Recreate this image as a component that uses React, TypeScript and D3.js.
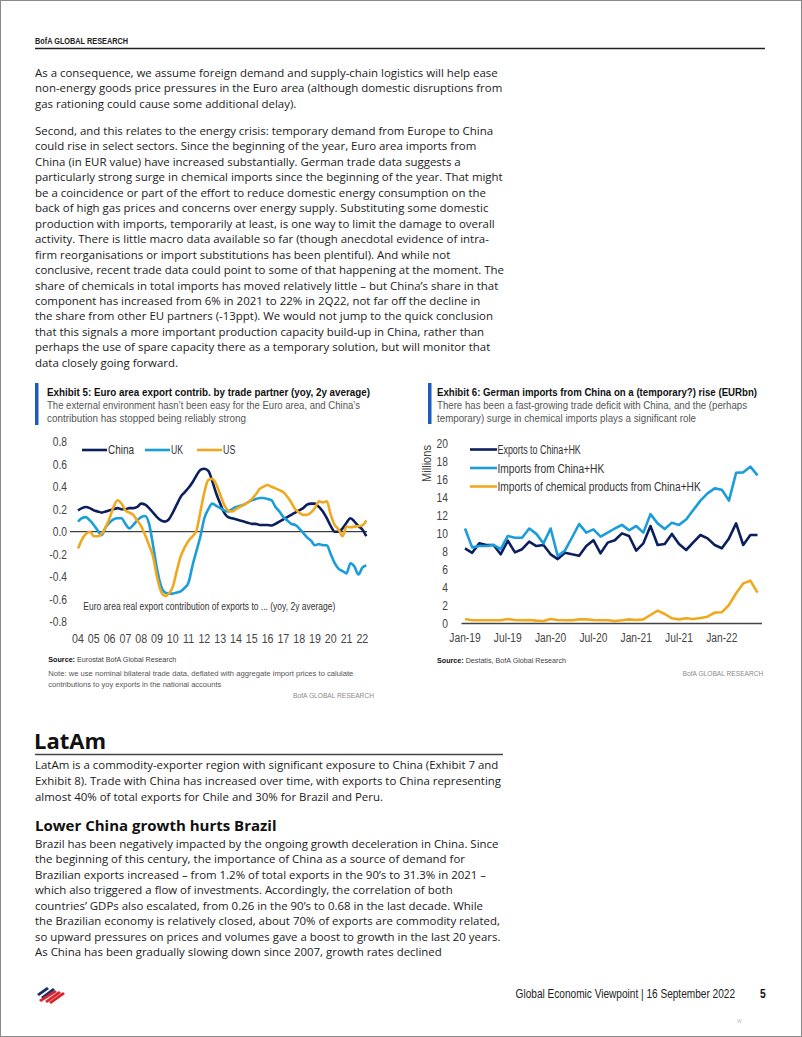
import React from "react";
import * as d3 from "d3";

// ---------- Exhibit 5 data (quarterly, 2004Q1 .. 2022Q2) ----------
const ex5StartYear = 2004;
const ex5China = [
  0.19, 0.21, 0.22, 0.21, 0.19, 0.18, 0.17, 0.18, 0.19, 0.2, 0.21, 0.2, 0.2, 0.21, 0.21, 0.22,
  0.25, 0.24, 0.21, 0.17, 0.13, 0.1, 0.09, 0.11, 0.17, 0.24, 0.31, 0.35, 0.39, 0.44, 0.5, 0.55,
  0.56, 0.54, 0.45, 0.34, 0.25, 0.17, 0.13, 0.12, 0.11, 0.1, 0.09, 0.08, 0.07, 0.07, 0.06, 0.06,
  0.06, 0.055, 0.07, 0.09, 0.11, 0.13, 0.15, 0.17, 0.19, 0.21, 0.24, 0.25, 0.25, 0.22, 0.18, 0.12,
  0.05, 0.0, 0.0, 0.03, 0.08, 0.12, 0.09, 0.05, 0.02, -0.04,
];
const ex5UK = [
  0.09, 0.12, 0.13, 0.1, 0.06, 0.01, -0.03, 0.04, 0.08, 0.11, 0.12, 0.12, 0.07, 0.03, 0.06, 0.1,
  0.13, 0.14, 0.07, -0.12, -0.33, -0.48, -0.54, -0.55, -0.55, -0.54, -0.53, -0.5, -0.45, -0.3, -0.17, -0.04,
  0.12, 0.2, 0.25, 0.23, 0.21, 0.19, 0.18, 0.2, 0.22, 0.23, 0.24, 0.26, 0.28, 0.29, 0.3, 0.3,
  0.29, 0.28, 0.22, 0.18, 0.13, 0.1, 0.07, 0.06, 0.03, -0.01, -0.05, -0.08, -0.12, -0.11, -0.12, -0.12,
  -0.2, -0.28, -0.33, -0.35, -0.37, -0.28, -0.31, -0.38, -0.32, -0.3,
];
const ex5US = [
  -0.15, -0.07, -0.02, 0.0, -0.04, -0.04, -0.02, 0.04, 0.12, 0.22, 0.28, 0.25, 0.19, 0.17, 0.15, 0.1,
  0.05, -0.03, -0.12, -0.22, -0.4, -0.53, -0.57, -0.55, -0.49, -0.35, -0.22, -0.14, -0.08, -0.04, 0.01, 0.18,
  0.35, 0.46, 0.47, 0.42, 0.33, 0.24, 0.19, 0.18, 0.2, 0.22, 0.24, 0.26, 0.29, 0.33, 0.38, 0.4,
  0.415, 0.4, 0.385, 0.37, 0.35, 0.31, 0.26, 0.2, 0.17, 0.15, 0.15, 0.17, 0.21, 0.27, 0.26, 0.27,
  0.15, 0.06, 0.02, -0.04, 0.045, 0.04, 0.045, 0.05, 0.055, 0.1,
];
const ex5YTicks = [-0.8, -0.6, -0.4, -0.2, 0.0, 0.2, 0.4, 0.6, 0.8];
const ex5XYears = [2004, 2005, 2006, 2007, 2008, 2009, 2010, 2011, 2012, 2013, 2014, 2015, 2016, 2017, 2018, 2019, 2020, 2021, 2022];
const ex5Series = ["China", "UK", "US"];

// ---------- Exhibit 6 data (monthly, Jan-19 .. Jun-22) ----------
const ex6Exports = [
  8.3, 7.8, 8.85, 8.67, 8.67, 7.63, 9.15, 7.85, 8.2, 9.04, 8.55, 8.67,
  7.63, 7.1, 7.8, 7.63, 7.48, 8.55, 9.2, 7.74, 8.93, 9.2, 9.96, 9.67,
  8.04, 8.85, 10.78, 8.67, 8.78, 9.9, 8.78, 8.11, 8.96, 9.78, 9.4, 8.67,
  8.3, 9.4, 11.07, 8.67, 9.78, 9.78,
];
const ex6Imports = [
  10.5, 8.4, 8.55, 8.55, 8.67, 8.2, 9.67, 9.48, 9.48, 10.5, 9.9, 8.85,
  10.5, 7.44, 8.04, 9.5, 11.0, 10.04, 10.4, 9.6, 10.04, 10.5, 10.9, 10.3,
  10.78, 10.04, 12.1, 11.07, 10.44, 11.15, 10.9, 11.5, 12.55, 13.6, 14.4, 14.96,
  14.8, 13.6, 16.7, 16.74, 17.37, 16.4,
];
const ex6Chemicals = [
  0.44, 0.3, 0.3, 0.3, 0.3, 0.3, 0.44, 0.33, 0.3, 0.33, 0.26, 0.22,
  0.44, 0.33, 0.3, 0.3, 0.4, 0.4, 0.33, 0.3, 0.3, 0.22, 0.3, 0.4,
  0.33, 0.4, 0.89, 1.37, 1.0, 0.52, 0.4, 0.52, 0.44, 0.55, 0.7, 1.15,
  1.19, 2.0, 3.3, 4.4, 4.7, 3.37,
];
const ex6XTickLabels = ["Jan-19", "Jul-19", "Jan-20", "Jul-20", "Jan-21", "Jul-21", "Jan-22"];
const ex6YTicks = [0, 2, 4, 6, 8, 10, 12, 14, 16, 18, 20];
const ex6Series = ["Exports to China+HK", "Imports from China+HK", "Imports of chemical products from China+HK"];

// ---------- Text ----------
const para1 = [
  "As a consequence, we assume foreign demand and supply-chain logistics will help ease",
  "non-energy goods price pressures in the Euro area (although domestic disruptions from",
  "gas rationing could cause some additional delay).",
];
const para2 = [
  "Second, and this relates to the energy crisis: temporary demand from Europe to China",
  "could rise in select sectors. Since the beginning of the year, Euro area imports from",
  "China (in EUR value) have increased substantially. German trade data suggests a",
  "particularly strong surge in chemical imports since the beginning of the year. That might",
  "be a coincidence or part of the effort to reduce domestic energy consumption on the",
  "back of high gas prices and concerns over energy supply. Substituting some domestic",
  "production with imports, temporarily at least, is one way to limit the damage to overall",
  "activity. There is little macro data available so far (though anecdotal evidence of intra-",
  "firm reorganisations or import substitutions has been plentiful). And while not",
  "conclusive, recent trade data could point to some of that happening at the moment. The",
  "share of chemicals in total imports has moved relatively little \u2013 but China\u2019s share in that",
  "component has increased from 6% in 2021 to 22% in 2Q22, not far off the decline in",
  "the share from other EU partners (-13ppt). We would not jump to the quick conclusion",
  "that this signals a more important production capacity build-up in China, rather than",
  "perhaps the use of spare capacity there as a temporary solution, but will monitor that",
  "data closely going forward.",
];
const latamPara = [
  "LatAm is a commodity-exporter region with significant exposure to China (Exhibit 7 and",
  "Exhibit 8). Trade with China has increased over time, with exports to China representing",
  "almost 40% of total exports for Chile and 30% for Brazil and Peru.",
];
const brazilPara = [
  "Brazil has been negatively impacted by the ongoing growth deceleration in China. Since",
  "the beginning of this century, the importance of China as a source of demand for",
  "Brazilian exports increased \u2013 from 1.2% of total exports in the 90\u2019s to 31.3% in 2021 \u2013",
  "which also triggered a flow of investments. Accordingly, the correlation of both",
  "countries\u2019 GDPs also escalated, from 0.26 in the 90\u2019s to 0.68 in the last decade. While",
  "the Brazilian economy is relatively closed, about 70% of exports are commodity related,",
  "so upward pressures on prices and volumes gave a boost to growth in the last 20 years.",
  "As China has been gradually slowing down since 2007, growth rates declined",
];

const NAVY = "#0b1f5e";
const LBLUE = "#1b9ddb";
const ORANGE = "#f0a91e";
const BAR = "#1e5bbf";
const BODY = "'Open Sans', 'Noto Sans', sans-serif";
const HEAD = "'Open Sans', 'Noto Sans', sans-serif";
const NF = "'Liberation Sans', Arial, sans-serif";

function Lines({ lines, x, y0, lh, size, fill = "#1a1a1a", font = BODY }: any) {
  return (
    <g fontFamily={font} fontSize={size} fill={fill}>
      {lines.map((t: string, i: number) => (
        <text key={i} x={x} y={y0 + i * lh}>{t}</text>
      ))}
    </g>
  );
}

// Narrow text: Liberation Sans compressed horizontally (Arial Narrow look)
function NT({ x, y, w, anchor = "start", size, weight = "normal", fill = "#333", sx = 0.82, rotate, children }: any) {
  const tf = `translate(${x},${y})${rotate ? ` rotate(${rotate})` : ""} scale(${sx},1)`;
  return (
    <text
      transform={tf}
      textAnchor={anchor}
      fontFamily={NF}
      fontSize={size}
      fontWeight={weight}
      fill={fill}
      textLength={w ? w / sx : undefined}
      lengthAdjust={w ? "spacingAndGlyphs" : undefined}
    >
      {children}
    </text>
  );
}

export default function App() {
  // Exhibit 5 scales
  const x5 = d3.scaleLinear().domain([2004, 2022.25]).range([78, 366.3]);
  const y5 = d3.scaleLinear().domain([-0.8, 0.8]).range([621.7, 441.7]);
  const qYear = (i: number) => ex5StartYear + i / 4;
  const line5 = d3
    .line<number>()
    .x((_, i) => x5(qYear(i)))
    .y((d) => y5(d))
    .curve(d3.curveMonotoneX);
  const ex5Data = [ex5China, ex5UK, ex5US];
  const ex5Colors = [NAVY, LBLUE, ORANGE];

  // Exhibit 6 scales
  const x6 = d3.scaleLinear().domain([0, 41]).range([465, 757.5]);
  const y6 = d3.scaleLinear().domain([0, 20]).range([623, 443]);
  const line6 = d3
    .line<number>()
    .x((_, i) => x6(i))
    .y((d) => y6(d));
  const ex6Data = [ex6Exports, ex6Imports, ex6Chemicals];
  const ex6Colors = [NAVY, LBLUE, ORANGE];

  const legend5X = [82, 145, 197];
  const legend5W = [26, 12, 12.3];
  const legend6W = [83.3, 106.7, 203.3];

  const LH = 15.45;
  const FS = 11.45;

  return (
    <div style={{ position: "absolute", left: 0, top: 0, width: 802, height: 1037, overflow: "hidden", background: "#fff" }}>
      <svg width={802} height={1037} style={{ display: "block" }}>
        <rect x={0} y={0} width={802} height={1037} fill="#fff" />
        <rect x={0.5} y={0.5} width={801} height={1036} fill="none" stroke="#8a8a8a" strokeWidth={1} />

        {/* Header */}
        <NT x={35} y={44} w={93} size={8.5} weight="bold" fill="#222">BofA GLOBAL RESEARCH</NT>
        <line x1={35} x2={765} y1={48.5} y2={48.5} stroke="#222" strokeWidth={1.5} />

        {/* Body paragraphs */}
        <Lines lines={para1} x={35} y0={77} lh={LH} size={FS} />
        <Lines lines={para2} x={35} y0={135} lh={LH} size={FS} />

        {/* ---------- Exhibit 5 ---------- */}
        <rect x={35} y={383} width={3.5} height={42} fill={BAR} />
        <NT x={47} y={395.5} w={323} size={11.5} weight="bold" fill="#111">
          Exhibit 5: Euro area export contrib.  by trade partner (yoy, 2y average)
        </NT>
        <NT x={47} y={409} w={313} size={11.2} fill="#555">
          The external environment hasn{"\u2019"}t been easy for the Euro area, and China{"\u2019"}s
        </NT>
        <NT x={47} y={421.5} w={199} size={11.2} fill="#555">
          contribution has stopped being reliably strong
        </NT>

        {ex5YTicks.map((t) => (
          <NT key={t} x={67} y={y5(t) + 4.5} anchor="end" size={12.5} fill="#444">
            {t.toFixed(1)}
          </NT>
        ))}
        {ex5XYears.map((yr) => (
          <NT key={yr} x={x5(yr)} y={642.5} anchor="middle" size={13} fill="#444">
            {String(yr).slice(2)}
          </NT>
        ))}
        <line x1={70} x2={367} y1={y5(0)} y2={y5(0)} stroke="#111" strokeWidth={1} />
        {ex5Data.map((d, k) => (
          <path key={k} d={line5(d) || ""} fill="none" stroke={ex5Colors[k]} strokeWidth={2.6} strokeLinejoin="round" />
        ))}
        {ex5Series.map((s, k) => (
          <g key={s}>
            <line x1={legend5X[k]} x2={legend5X[k] + 25} y1={450} y2={450} stroke={ex5Colors[k]} strokeWidth={2.6} />
            <NT x={legend5X[k] + 26} y={454.3} w={legend5W[k]} size={12} fill="#333">{s}</NT>
          </g>
        ))}
        <NT x={83.3} y={609.5} w={252} size={10} fill="#333">
          Euro area real export contribution  of exports to ... (yoy, 2y average)
        </NT>
        <NT x={48.3} y={662} w={128} size={8} fill="#444">
          <tspan fontWeight="bold" fill="#111">Source:</tspan>  Eurostat  BofA Global Research
        </NT>
        <NT x={48.3} y={675.5} w={305} size={8} fill="#555">
          Note: we use  nominal  bilateral trade data, deflated with aggregate import prices to calulate
        </NT>
        <NT x={48.3} y={687} w={173} size={8} fill="#555">
          contributions  to yoy exports in the national accounts
        </NT>
        <NT x={374} y={698} anchor="end" w={81} size={8} fill="#8a8a8a">BofA GLOBAL RESEARCH</NT>

        {/* ---------- Exhibit 6 ---------- */}
        <rect x={428} y={383} width={3.5} height={41} fill={BAR} />
        <NT x={437} y={395.5} w={320} size={11.5} weight="bold" fill="#111">
          Exhibit 6: German imports  from China on a (temporary?)  rise (EURbn)
        </NT>
        <NT x={437} y={409} w={310} size={11.2} fill="#555">
          There has been a fast-growing trade deficit with China, and the (perhaps
        </NT>
        <NT x={437} y={421.5} w={259} size={11.2} fill="#555">
          temporary) surge in chemical imports plays a significant role
        </NT>

        {ex6YTicks.map((t) => (
          <NT key={t} x={448} y={y6(t) + 4.5} anchor="end" size={12.5} fill="#444">
            {t}
          </NT>
        ))}
        <NT x={430.5} y={463.5} rotate={-90} anchor="middle" w={37} size={12.5} fill="#444">
          Millions
        </NT>
        {ex6XTickLabels.map((l, k) => (
          <NT key={l} x={x6(k * 6)} y={642} anchor="middle" size={12.5} fill="#444">
            {l}
          </NT>
        ))}
        {ex6Data.map((d, k) => (
          <path key={k} d={line6(d) || ""} fill="none" stroke={ex6Colors[k]} strokeWidth={2.6} strokeLinejoin="round" />
        ))}
        <line x1={461.5} x2={762} y1={y6(0) + 0.5} y2={y6(0) + 0.5} stroke="#444" strokeWidth={1.6} />
        {ex6Series.map((s, k) => (
          <g key={s}>
            <line x1={470} x2={497} y1={449.5 + k * 18.5} y2={449.5 + k * 18.5} stroke={ex6Colors[k]} strokeWidth={2.6} />
            <NT x={497.5} y={454 + k * 18.5} w={legend6W[k]} size={12.5} fill="#333">{s}</NT>
          </g>
        ))}
        <NT x={437} y={663} w={129} size={8} fill="#444">
          <tspan fontWeight="bold" fill="#111">Source:</tspan>  Destatis, BofA Global Research
        </NT>
        <NT x={763.3} y={675.5} anchor="end" w={80.7} size={8} fill="#8a8a8a">BofA GLOBAL RESEARCH</NT>

        {/* LatAm */}
        <text x={34} y={748.5} fontFamily={HEAD} fontSize={22} fontWeight="bold" fill="#111">LatAm</text>
        <line x1={35} x2={503} y1={754.5} y2={754.5} stroke="#444" strokeWidth={1.5} />
        <Lines lines={latamPara} x={35} y0={769} lh={15.9} size={FS} />

        <text x={35} y={831} fontFamily={HEAD} fontSize={15} fontWeight="bold" fill="#111">Lower China growth hurts Brazil</text>
        <Lines lines={brazilPara} x={35} y0={848} lh={LH} size={FS} />

        {/* Footer */}
        <g transform="translate(35,985)">
          <path d="M2 9 L12 2 L14 4 L4 11 Z" fill="#1b2d6b" />
          <path d="M6 12 L18 3 L20 5 L8 14 Z" fill="#1b2d6b" />
          <path d="M4 15 L20 5 L22 7 L6 17 Z" fill="#d9262e" />
          <path d="M10 16 L24 6 L26 8 L12 18 Z" fill="#d9262e" />
          <path d="M14 17 L28 7 L30 9 L16 19 Z" fill="#d9262e" />
        </g>
        <NT x={515.6} y={998} w={219.4} size={12} fill="#222">
          Global Economic Viewpoint | 16 September 2022
        </NT>
        <NT x={760} y={998} size={12.5} weight="bold" fill="#111">5</NT>
        <NT x={737} y={1023} size={6} fill="#bbb">W</NT>
      </svg>
    </div>
  );
}
